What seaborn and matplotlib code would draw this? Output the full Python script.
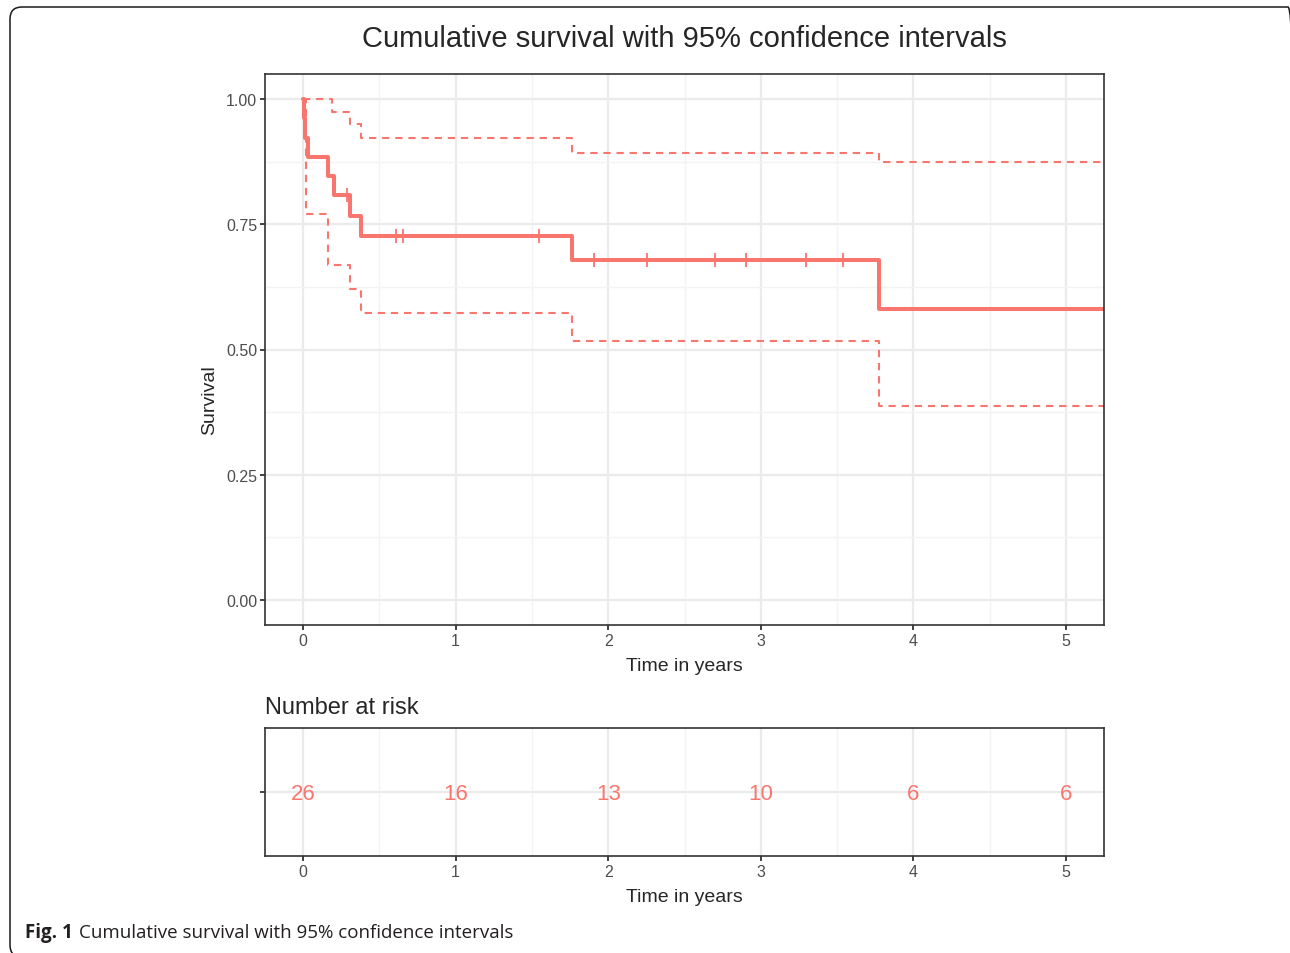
import numpy as np
import pandas as pd
import matplotlib
matplotlib.use('Agg')
import matplotlib.pyplot as plt
import matplotlib.patches as mpatches
import matplotlib.transforms as mtransforms
from matplotlib.ticker import MultipleLocator
import seaborn as sns

# Kaplan-Meier estimate
surv_time = [0, 0.005, 0.015, 0.03, 0.16, 0.20, 0.31, 0.378, 1.765, 3.777, 5.4]
surv_prob = [1.0, 0.962, 0.923, 0.885, 0.846, 0.808, 0.767, 0.727, 0.679, 0.581, 0.581]

upper_time = [0, 0.19, 0.31, 0.378, 1.765, 3.777, 5.4]
upper_prob = [1.0, 0.975, 0.950, 0.922, 0.892, 0.874, 0.874]

lower_time = [0, 0.02, 0.16, 0.31, 0.378, 1.765, 3.777, 5.4]
lower_prob = [1.0, 0.770, 0.669, 0.621, 0.572, 0.516, 0.387, 0.387]

censor_time = [0.286, 0.607, 0.657, 1.547, 1.909, 2.252, 2.700, 2.901, 3.294, 3.537]

risk_time = [0, 1, 2, 3, 4, 5]
risk_n = [26, 16, 13, 10, 6, 6]

col = '#F8766D'
grid_major = '#EBEBEB'
grid_minor = '#F3F3F3'
frame_col = '#333333'
tick_col = '#4D4D4D'

sns.set_style('ticks')
plt.rcParams['font.family'] = ['Liberation Sans', 'DejaVu Sans']

df_surv = pd.DataFrame({'time': surv_time, 'surv': surv_prob})
df_up = pd.DataFrame({'time': upper_time, 'surv': upper_prob})
df_lo = pd.DataFrame({'time': lower_time, 'surv': lower_prob})
idx = np.searchsorted(surv_time, censor_time, side='right') - 1
df_cens = pd.DataFrame({'time': censor_time, 'surv': np.array(surv_prob)[idx]})

fig = plt.figure(figsize=(12.9, 9.54), dpi=100)
ax = fig.add_axes([265/1290, 1-626/954, (1104-265)/1290, (626-75)/954])
ax_r = fig.add_axes([265/1290, 1-857/954, (1104-265)/1290, (857-729)/954])


def style_axes(a):
    a.set_xlim(-0.25, 5.25)
    a.xaxis.set_major_locator(MultipleLocator(1))
    a.xaxis.set_minor_locator(MultipleLocator(0.5))
    a.grid(which='major', color=grid_major, lw=1.6, zorder=0)
    a.grid(which='minor', color=grid_minor, lw=1.0, zorder=0)
    a.set_axisbelow(True)
    for s in a.spines.values():
        s.set_color(frame_col)
        s.set_linewidth(1.2)
        s.set_visible(True)
    a.tick_params(which='major', length=3.5, width=1.3, color=frame_col,
                  labelcolor=tick_col, labelsize=11.5, pad=2)
    a.tick_params(which='minor', length=0)


style_axes(ax)
sns.lineplot(data=df_up, x='time', y='surv', ax=ax, color=col, lw=1.5,
             drawstyle='steps-post', estimator=None, sort=False,
             linestyle=(0, (3.5, 2.8)))
sns.lineplot(data=df_lo, x='time', y='surv', ax=ax, color=col, lw=1.5,
             drawstyle='steps-post', estimator=None, sort=False,
             linestyle=(0, (3.5, 2.8)))
sns.lineplot(data=df_surv, x='time', y='surv', ax=ax, color=col, lw=2.9,
             drawstyle='steps-post', estimator=None, sort=False)
sns.scatterplot(data=df_cens, x='time', y='surv', ax=ax, marker='|', s=110,
                color=col, edgecolor=col, linewidth=1.3, zorder=5)
ax.set_ylim(-0.05, 1.05)
ax.yaxis.set_major_locator(MultipleLocator(0.25))
ax.yaxis.set_minor_locator(MultipleLocator(0.125))
ax.yaxis.set_major_formatter(matplotlib.ticker.FormatStrFormatter('%.2f'))
ax.set_xlabel('Time in years', fontsize=14, labelpad=7)
ax.set_ylabel('Survival', fontsize=14)
ax.yaxis.set_label_coords(-0.056, 0.41)
ax.set_title('Cumulative survival with 95% confidence intervals', fontsize=21, pad=20)

# number at risk table
style_axes(ax_r)
ax_r.set_ylim(-1, 1)
ax_r.set_yticks([0])
ax_r.set_yticklabels([''])
for t, n in zip(risk_time, risk_n):
    ax_r.text(t, -0.03, str(n), color=col, fontsize=16, ha='center', va='center')
ax_r.set_xlabel('Time in years', fontsize=14, labelpad=7)
ax_r.set_ylabel('')
ax_r.set_title('Number at risk', fontsize=17, loc='left', pad=11)

# page frame and caption
frame = mpatches.FancyBboxPatch((10, -4), 1290, 950,
                                boxstyle='round,pad=0,rounding_size=12',
                                transform=mtransforms.IdentityTransform(),
                                fill=False, ec='#1a1a1a', lw=1.1)
fig.add_artist(frame)
t1 = fig.text(25/1290, 1-933/954, 'Fig. 1', fontsize=13.5, fontweight='bold',
              family=['Open Sans', 'DejaVu Sans'], color='#231F20', va='center')
fig.canvas.draw()
bb = t1.get_window_extent(fig.canvas.get_renderer())
fig.text((bb.x1 + 6)/1290, 1-933/954, 'Cumulative survival with 95% confidence intervals',
         fontsize=13.5, family=['Open Sans', 'DejaVu Sans'], color='#231F20', va='center')

fig.savefig('out.png', dpi=100)
